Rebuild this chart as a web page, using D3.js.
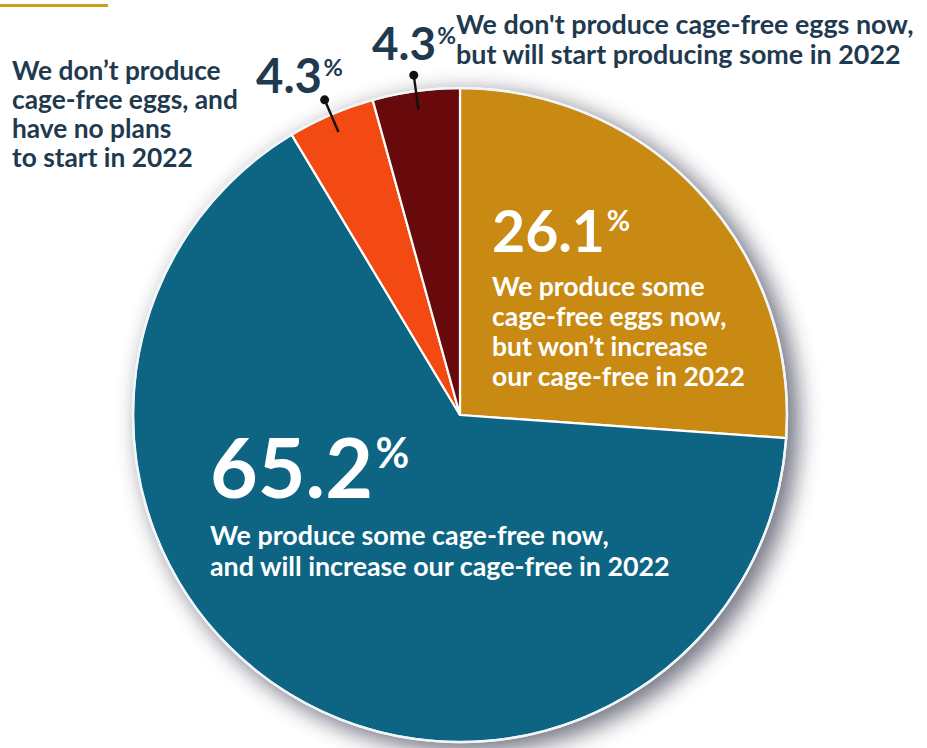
<!DOCTYPE html>
<html>
<head>
<meta charset="utf-8">
<script src="https://cdn.jsdelivr.net/npm/d3@7"></script>
<style>
  body { margin: 0; background: #fff; }
  text { font-family: Lato, "Open Sans", sans-serif; font-weight: 700; }
</style>
</head>
<body>
<div id="chart"></div>
<script>
  // data
  var categories = [
    'Produce some, won\u2019t increase',
    'Produce some, will increase',
    'Don\u2019t produce, no plans',
    'Don\u2019t produce, will start'
  ];
  var values = [26.1, 65.2, 4.3, 4.3];
  var valueLabels = ['26.1', '65.2', '4.3', '4.3'];
  var labelLines = [
    ['We produce some', 'cage-free eggs now,', 'but won\u2019t increase', 'our cage-free in 2022'],
    ['We produce some cage-free now,', 'and will increase our cage-free in 2022'],
    ['We don\u2019t produce', 'cage-free eggs, and', 'have no plans', 'to start in 2022'],
    ['We don\'t produce cage-free eggs now,', 'but will start producing some in 2022']
  ];

  var colors = ['#c98a13', '#0e6483', '#f24a12', '#680a0b'];
  var ink = '#1f3a4f';

  var width = 927, height = 748;
  var cx = 460, cy = 415, r = 327;

  // where each label block sits (number + text)
  var layout = [
    { numX: 492, numBase: 252, numW: 113, numFill: '#fff', txtX: 492, txtBase: 296, lh: 30, txtW: 253, txtFill: '#fff' },
    { numX: 210, numBase: 498, numW: 163, numFill: '#fff', txtX: 210, txtBase: 545, lh: 31, txtW: 460, txtFill: '#fff' },
    { numX: 256, numBase: 93, numW: 66, numFill: ink, txtX: 12, txtBase: 80, lh: 29, txtW: 226, txtFill: ink },
    { numX: 372, numBase: 60, numW: 64, numFill: ink, txtX: 456, txtBase: 34, lh: 30, txtW: 458, txtFill: ink }
  ];

  var svg = d3.select('#chart')
    .append('svg')
    .attr('width', width)
    .attr('height', height);

  var defs = svg.append('defs');
  defs.append('filter')
    .attr('id', 'blur')
    .attr('x', '-30%').attr('y', '-30%')
    .attr('width', '160%').attr('height', '160%')
    .append('feGaussianBlur')
    .attr('stdDeviation', 11);

  // little gold rule top-left
  svg.append('rect')
    .attr('x', 0).attr('y', 4)
    .attr('width', 108).attr('height', 3)
    .attr('fill', '#cf9f1c');

  var g = svg.append('g').attr('transform', 'translate(' + cx + ',' + cy + ')');

  // soft shadow behind the pie
  g.append('circle')
    .attr('cx', 9).attr('cy', 7)
    .attr('r', r + 3)
    .attr('fill', '#3c3c52')
    .attr('opacity', 0.7)
    .attr('filter', 'url(#blur)');

  var pie = d3.pie().sort(null).value(function(d) { return d; });
  var arcs = pie(values);
  var arc = d3.arc().innerRadius(0).outerRadius(r);

  g.selectAll('path.slice')
    .data(arcs)
    .enter().append('path')
    .attr('class', 'slice')
    .attr('d', arc)
    .attr('fill', function(d, i) { return colors[i]; })
    .attr('stroke', '#fff')
    .attr('stroke-width', 2.2)
    .attr('stroke-linejoin', 'round');

  g.append('circle')
    .attr('r', r)
    .attr('fill', 'none')
    .attr('stroke', '#eef6f8')
    .attr('stroke-width', 2.5);

  // leader lines for the two small slices
  var inArc = d3.arc().innerRadius(308).outerRadius(308);
  var outArc = d3.arc().innerRadius(343).outerRadius(343);
  arcs.slice(2).forEach(function(d) {
    var a = inArc.centroid(d), b = outArc.centroid(d);
    g.append('line')
      .attr('x1', a[0]).attr('y1', a[1])
      .attr('x2', b[0]).attr('y2', b[1])
      .attr('stroke', '#111').attr('stroke-width', 2.4);
    g.append('circle')
      .attr('cx', b[0]).attr('cy', b[1]).attr('r', 4.5)
      .attr('fill', '#111');
  });

  // size a text element so it spans the given width
  function fit(sel, w) {
    sel.attr('font-size', 100);
    var len = sel.node().getComputedTextLength();
    var fs = 100 * w / len;
    sel.attr('font-size', fs);
    return fs;
  }

  layout.forEach(function(L, i) {
    var num = svg.append('text')
      .attr('x', L.numX).attr('y', L.numBase)
      .attr('fill', L.numFill)
      .text(valueLabels[i]);
    var fs = fit(num, L.numW);
    var cap = fs * 0.72;
    var pctSize = fs * 0.5;
    svg.append('text')
      .attr('x', L.numX + L.numW + fs * 0.03)
      .attr('y', L.numBase - cap + pctSize * 0.72)
      .attr('font-size', pctSize)
      .attr('font-weight', 400)
      .attr('fill', L.numFill)
      .text('%');

    // fit the widest line to the block width
    var probe = svg.append('text').attr('font-size', 100);
    var widest = d3.max(labelLines[i], function(s) {
      probe.text(s);
      return probe.node().getComputedTextLength();
    });
    probe.remove();
    var tfs = 100 * L.txtW / widest;

    svg.append('text')
      .attr('x', L.txtX).attr('y', L.txtBase)
      .attr('font-size', tfs)
      .attr('fill', L.txtFill)
      .selectAll('tspan')
      .data(labelLines[i])
      .enter().append('tspan')
      .attr('x', L.txtX)
      .attr('dy', function(d, j) { return j === 0 ? 0 : L.lh; })
      .text(function(d) { return d; });
  });
</script>
</body>
</html>
